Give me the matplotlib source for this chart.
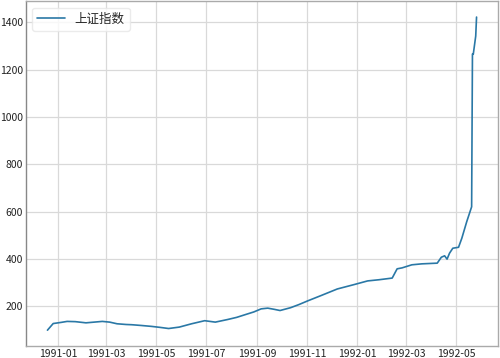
import pandas as pd
import matplotlib
matplotlib.use('Agg')
import matplotlib.pyplot as plt
import matplotlib.dates as mdates

# 上证指数, 1990-12 ~ 1992-05
dates = ['1990-12-19', '1990-12-22', '1990-12-26', '1991-01-05', '1991-01-12',
         '1991-01-22', '1991-02-04', '1991-02-14', '1991-02-24', '1991-03-05',
         '1991-03-14', '1991-03-25', '1991-04-01', '1991-04-12', '1991-04-25',
         '1991-05-05', '1991-05-16', '1991-05-29', '1991-06-13', '1991-06-29',
         '1991-07-12', '1991-07-27', '1991-08-07', '1991-08-17', '1991-08-28',
         '1991-09-06', '1991-09-14', '1991-09-22', '1991-09-29', '1991-10-12',
         '1991-10-22', '1991-11-02', '1991-11-18', '1991-12-08', '1991-12-29',
         '1992-01-14', '1992-01-28', '1992-02-13', '1992-02-19', '1992-02-25',
         '1992-03-08', '1992-03-20', '1992-04-08', '1992-04-13', '1992-04-17',
         '1992-04-20', '1992-04-23', '1992-04-27', '1992-05-04', '1992-05-08',
         '1992-05-14', '1992-05-18', '1992-05-20', '1992-05-21', '1992-05-22',
         '1992-05-25', '1992-05-26']
values = [100, 112, 128, 133, 137,
          136, 131, 134, 137, 134,
          127, 124, 123, 120, 116,
          112, 107, 113, 127, 140,
          134, 145, 154, 165, 177,
          190, 193, 188, 183, 195,
          208, 224, 246, 274, 293,
          308, 313, 320, 359, 363,
          376, 380, 383, 408, 414,
          400, 425, 446, 450, 488,
          558, 600, 621, 1266, 1265,
          1342, 1422]
series_name = '上证指数'

plt.style.use('seaborn-v0_8-whitegrid')
plt.rcParams['font.family'] = ['Noto Sans CJK SC', 'DejaVu Sans']

fig = plt.figure(figsize=(5.0, 3.58), dpi=100)
ax = fig.add_axes([0.052, 0.034, 0.944, 0.962])

x = pd.to_datetime(dates)
ax.plot(x, values, color='#2a78a6', linewidth=1.2, label=series_name)

ax.xaxis.set_major_locator(mdates.MonthLocator(bymonth=[1, 3, 5, 7, 9, 11]))
ax.xaxis.set_major_formatter(mdates.DateFormatter('%Y-%m'))
ax.set_yticks([200, 400, 600, 800, 1000, 1200, 1400])
ax.tick_params(labelsize=7.5, colors='#222222', pad=2)

ax.grid(True, color='#d9d9d9', linewidth=0.9)
for side in ['left', 'bottom', 'right', 'top']:
    ax.spines[side].set_visible(True)
    ax.spines[side].set_color('#aaaaaa')
    ax.spines[side].set_linewidth(1.0)
ax.spines['left'].set_color('#888888')

ax.legend(loc='upper left', fontsize=9, frameon=True, framealpha=0.8,
          edgecolor='#e6e6e6', handlelength=2.2)

fig.savefig('out.png', dpi=100)
